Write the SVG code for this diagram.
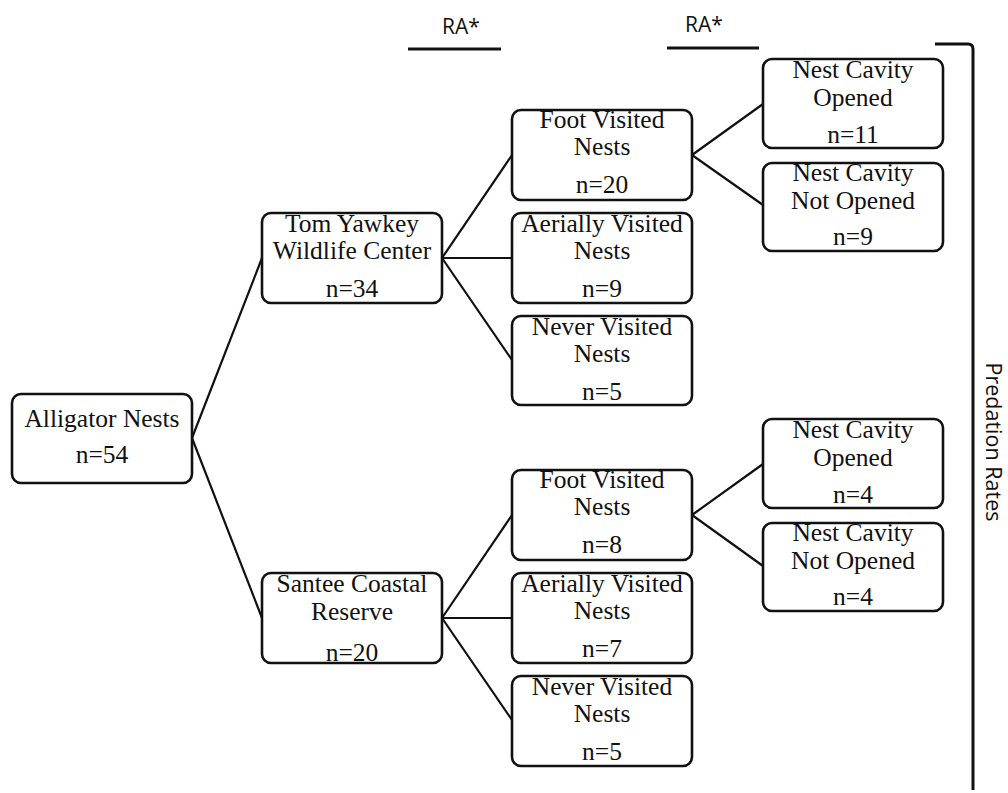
<svg xmlns="http://www.w3.org/2000/svg" width="1008" height="793" viewBox="0 0 1008 793">
<style>
.box{fill:#fff;stroke:#111;stroke-width:2.6}
.t{font-family:"Liberation Serif","Times New Roman",serif;font-size:25.5px;fill:#111;text-anchor:middle}
.s{font-family:"Open Sans","Liberation Sans",sans-serif;font-size:21px;fill:#111}
.c line{stroke:#111;stroke-width:2.2;fill:none}
</style>
<rect width="1008" height="793" fill="#fff"/>
<g id="connectors" class="c">
<line x1="192" y1="438" x2="262" y2="258"/>
<line x1="192" y1="438" x2="262" y2="618"/>
<line x1="442" y1="258" x2="512" y2="155"/>
<line x1="442" y1="258" x2="512" y2="258"/>
<line x1="442" y1="258" x2="512" y2="360"/>
<line x1="442" y1="618" x2="512" y2="515"/>
<line x1="442" y1="618" x2="512" y2="618"/>
<line x1="442" y1="618" x2="512" y2="720"/>
<line x1="692" y1="155" x2="763" y2="104"/>
<line x1="692" y1="155" x2="763" y2="205"/>
<line x1="692" y1="515" x2="763" y2="464"/>
<line x1="692" y1="515" x2="763" y2="566"/>
</g>
<g id="annotations">
<text class="s" x="461" y="34" text-anchor="middle">RA*</text>
<line x1="408" y1="49" x2="501" y2="49" stroke="#111" stroke-width="3"/>
<text class="s" x="704" y="32" text-anchor="middle">RA*</text>
<line x1="667" y1="48" x2="759" y2="48" stroke="#111" stroke-width="3"/>
<path d="M935 44 H968 Q973 44 973 49 V790" fill="none" stroke="#111" stroke-width="3"/>
<text class="s" transform="translate(986 442) rotate(90)" text-anchor="middle" style="font-size:21.5px">Predation Rates</text>
</g>
<g id="n-root"><rect class="box" x="12" y="394" width="180" height="89" rx="9"/>
<text class="t" x="102" y="427">Alligator Nests</text><text class="t" x="102" y="463">n=54</text></g>
<g id="n-tom"><rect class="box" x="262" y="213" width="180" height="90" rx="9"/>
<text class="t" x="352" y="232">Tom Yawkey</text><text class="t" x="352" y="259">Wildlife Center</text><text class="t" x="352" y="297">n=34</text></g>
<g id="n-santee"><rect class="box" x="262" y="573" width="180" height="90" rx="9"/>
<text class="t" x="352" y="592">Santee Coastal</text><text class="t" x="352" y="620">Reserve</text><text class="t" x="352" y="661">n=20</text></g>
<g id="n-tom-foot"><rect class="box" x="512" y="110" width="180" height="90" rx="9"/>
<text class="t" x="602" y="128">Foot Visited</text><text class="t" x="602" y="155">Nests</text><text class="t" x="602" y="193">n=20</text></g>
<g id="n-tom-aerial"><rect class="box" x="512" y="213" width="180" height="90" rx="9"/>
<text class="t" x="602" y="232">Aerially Visited</text><text class="t" x="602" y="259">Nests</text><text class="t" x="602" y="297">n=9</text></g>
<g id="n-tom-never"><rect class="box" x="512" y="316" width="180" height="89" rx="9"/>
<text class="t" x="602" y="335">Never Visited</text><text class="t" x="602" y="362">Nests</text><text class="t" x="602" y="400">n=5</text></g>
<g id="n-santee-foot"><rect class="box" x="512" y="470" width="180" height="90" rx="9"/>
<text class="t" x="602" y="488">Foot Visited</text><text class="t" x="602" y="515">Nests</text><text class="t" x="602" y="553">n=8</text></g>
<g id="n-santee-aerial"><rect class="box" x="512" y="573" width="180" height="90" rx="9"/>
<text class="t" x="602" y="592">Aerially Visited</text><text class="t" x="602" y="619">Nests</text><text class="t" x="602" y="657">n=7</text></g>
<g id="n-santee-never"><rect class="box" x="512" y="676" width="180" height="90" rx="9"/>
<text class="t" x="602" y="695">Never Visited</text><text class="t" x="602" y="722">Nests</text><text class="t" x="602" y="760">n=5</text></g>
<g id="n-tom-opened"><rect class="box" x="763" y="59" width="180" height="89" rx="9"/>
<text class="t" x="853" y="78">Nest Cavity</text><text class="t" x="853" y="106">Opened</text><text class="t" x="853" y="143">n=11</text></g>
<g id="n-tom-notopened"><rect class="box" x="763" y="163" width="180" height="88" rx="9"/>
<text class="t" x="853" y="181">Nest Cavity</text><text class="t" x="853" y="209">Not Opened</text><text class="t" x="853" y="245">n=9</text></g>
<g id="n-santee-opened"><rect class="box" x="763" y="419" width="180" height="89" rx="9"/>
<text class="t" x="853" y="438">Nest Cavity</text><text class="t" x="853" y="466">Opened</text><text class="t" x="853" y="503">n=4</text></g>
<g id="n-santee-notopened"><rect class="box" x="763" y="523" width="180" height="88" rx="9"/>
<text class="t" x="853" y="541">Nest Cavity</text><text class="t" x="853" y="569">Not Opened</text><text class="t" x="853" y="605">n=4</text></g>
</svg>
